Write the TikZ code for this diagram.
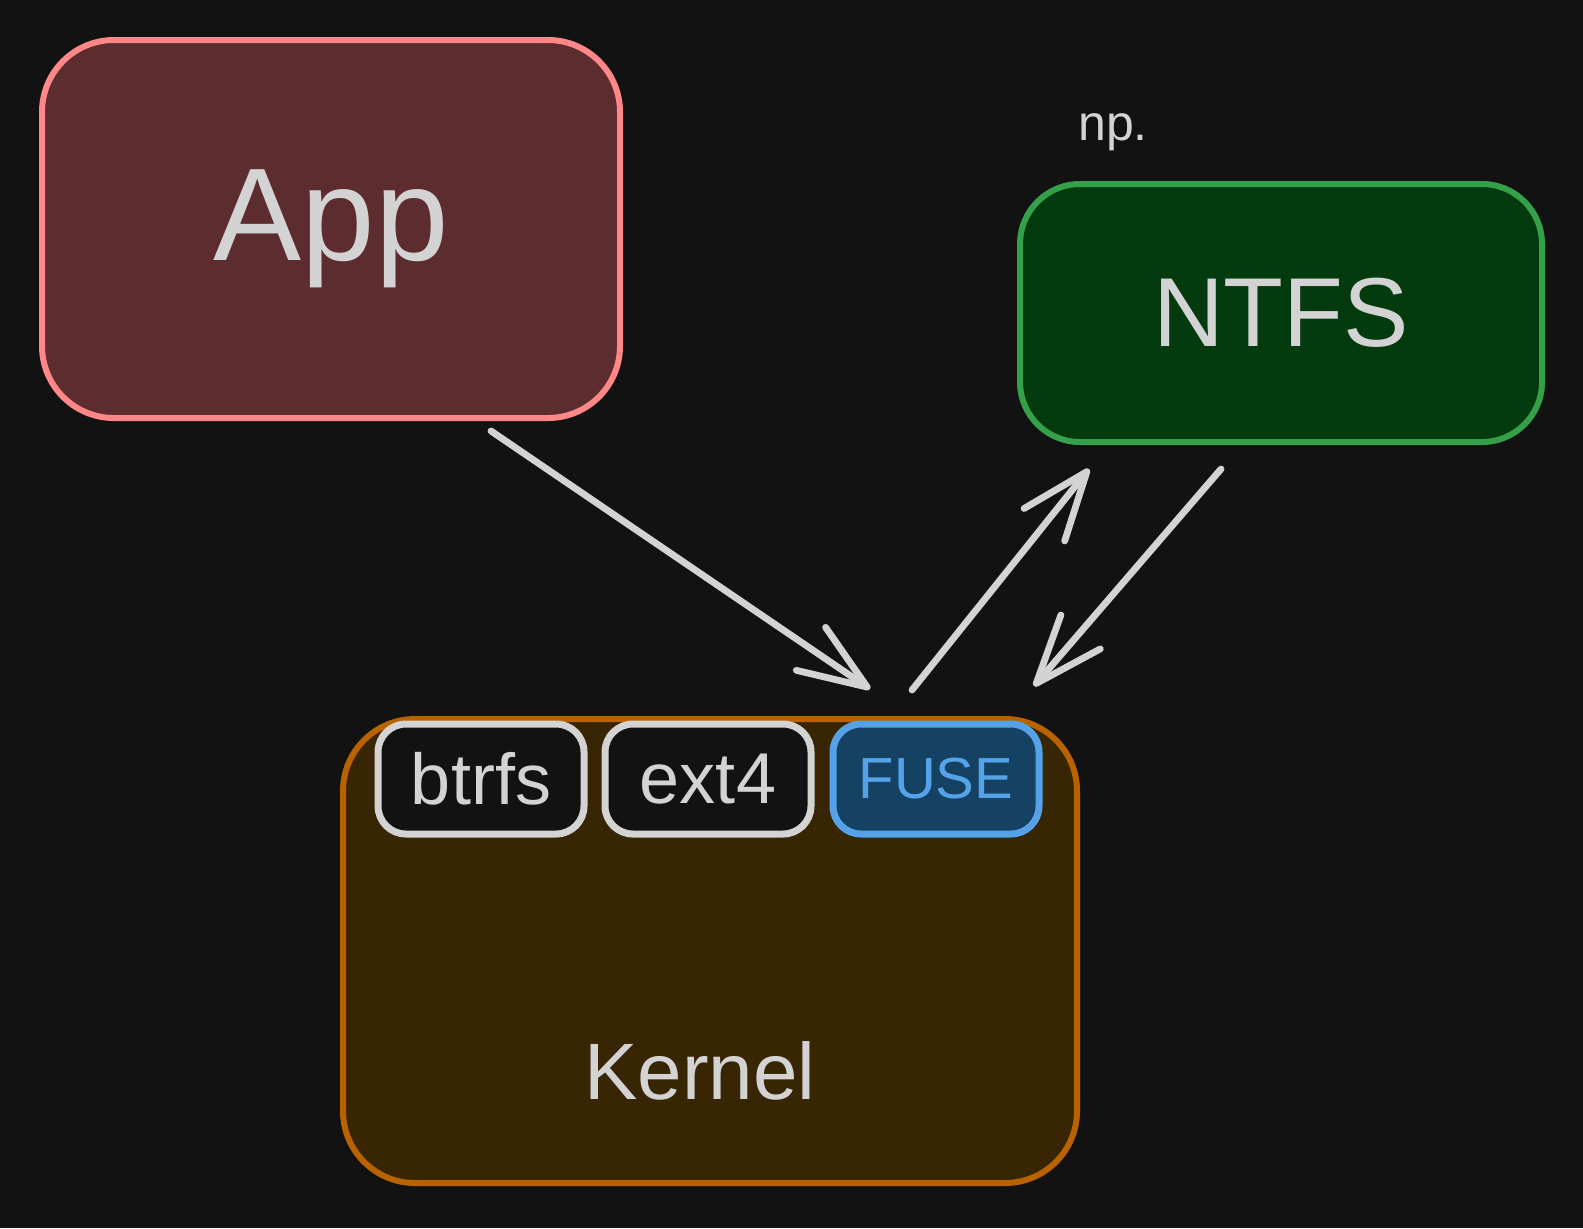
\documentclass[tikz,border=0pt]{standalone}
\usepackage{fontspec}
\setmainfont{Liberation Sans}
\usetikzlibrary{arrows.meta}
\definecolor{bg}{HTML}{121212}
\definecolor{ink}{HTML}{D3D3D3}
\definecolor{appfill}{HTML}{5C2C2F}
\definecolor{appline}{HTML}{FF8787}
\definecolor{ntfsfill}{HTML}{043B0E}
\definecolor{ntfsline}{HTML}{35A04A}
\definecolor{kernfill}{HTML}{382503}
\definecolor{kernline}{HTML}{B86200}
\definecolor{fusefill}{HTML}{154163}
\definecolor{fuseline}{HTML}{56A2E8}
\tikzset{
  bigbox/.style={draw,line width=3pt,rounded corners=36pt,inner sep=0pt},
  fsbox/.style={draw=ink,fill=bg,line width=3.5pt,rounded corners=14pt,minimum width=103pt,minimum height=55pt,inner sep=0pt,text=ink,font=\fontsize{36}{40}\selectfont},
  link/.style={draw=ink,line width=3.4pt,line cap=round,line join=round,-{Straight Barb[length=34pt,width=26pt,round]}}
}
\begin{document}
\begin{tikzpicture}[x=0.5pt,y=-0.5pt]
                \fill[bg] (0,0) rectangle (1583,1228);
                \useasboundingbox (0,0) rectangle (1583,1228);
                \node[bigbox,draw=appline,fill=appfill,minimum width=289pt,minimum height=189pt,text=ink,font=\fontsize{66}{76}\selectfont] (app) at (331,229) {\raisebox{-4pt}{App}};
                \node[bigbox,draw=ntfsline,fill=ntfsfill,minimum width=261pt,minimum height=129pt,rounded corners=30pt,text=ink,font=\fontsize{49}{56}\selectfont] (ntfs) at (1281,313) {NTFS};
                \node[text=ink,font=\fontsize{25}{30}\selectfont] (np) at (1113,132) {np.};
                \node[bigbox,draw=kernline,fill=kernfill,minimum width=367pt,minimum height=232pt] (kernel) at (710,951) {};
                \node[text=ink,font=\fontsize{40}{48}\selectfont] (kernlbl) at (700,1071) {Kernel};
                \node[fsbox] (btrfs) at (481,779) {btrfs};
                \node[fsbox] (ext) at (708,779) {ext4};
                \node[fsbox,draw=fuseline,fill=fusefill,text=fuseline,font=\fontsize{29}{34}\selectfont] (fuse) at (936,779) {FUSE};
                \draw[link] ([xshift=80pt,yshift=-5pt]app.south)--([xshift=80pt,yshift=13.5pt]kernel.north);
                \draw[link] ([xshift=101pt,yshift=13pt]kernel.north)--([xshift=-96pt,yshift=-12pt]ntfs.south);
                \draw[link] ([xshift=-30pt,yshift=-12pt]ntfs.south)--([xshift=162pt,yshift=15pt]kernel.north);
                \end{tikzpicture}
\end{document}
